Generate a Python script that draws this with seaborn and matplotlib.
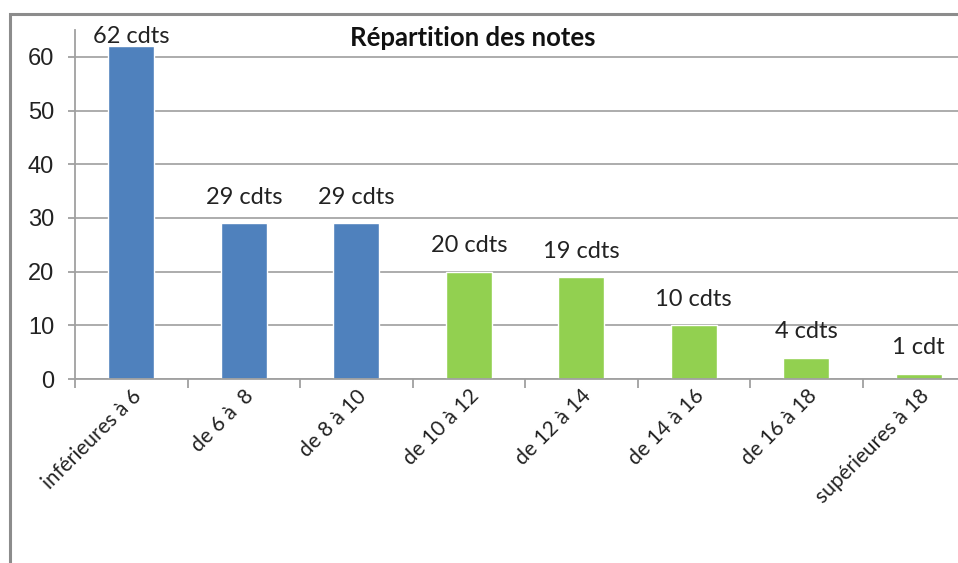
import matplotlib
matplotlib.use("Agg")
import matplotlib.pyplot as plt
import seaborn as sns
import pandas as pd
from matplotlib.patches import Rectangle

categories = ["inférieures à 6", "de 6 à  8", "de 8 à 10", "de 10 à 12",
              "de 12 à 14", "de 14 à 16", "de 16 à 18", "supérieures à 18"]
values = [62, 29, 29, 20, 19, 10, 4, 1]
labels = ["62 cdts", "29 cdts", "29 cdts", "20 cdts", "19 cdts", "10 cdts", "4 cdts", "1 cdt"]
groups = ["bas", "bas", "bas", "haut", "haut", "haut", "haut", "haut"]
palette = {"bas": "#4F81BD", "haut": "#92D050"}
yticks = [0, 10, 20, 30, 40, 50, 60]
title = "Répartition des notes"

sns.set_theme(style="white")
plt.rcParams["font.family"] = ["Lato", "DejaVu Sans"]

W, H = 958, 563
fig = plt.figure(figsize=(W / 100, H / 100), dpi=100)
ax_left, ax_right, ax_top, ax_bottom = 75, 975, 30, 379
ax = fig.add_axes([ax_left / W, 1 - ax_bottom / H, (ax_right - ax_left) / W, (ax_bottom - ax_top) / H])

df = pd.DataFrame({"cat": categories, "val": values, "grp": groups})
sns.barplot(data=df, x="cat", y="val", hue="grp", palette=palette, dodge=False,
            width=0.41, ax=ax, legend=False, saturation=1)

ax.set_xlim(-0.5, 7.5)
ax.set_ylim(0, 65)
ax.set_yticks(yticks)
ax.set_yticklabels([str(t) for t in yticks], fontfamily="Liberation Sans", fontsize=17)
ax.yaxis.grid(True, color="#A6A6A6", linewidth=1.3)
ax.set_axisbelow(True)
ax.set_xlabel("")
ax.set_ylabel("")

for s in ["top", "right"]:
    ax.spines[s].set_visible(False)
for s in ["left", "bottom"]:
    ax.spines[s].set_color("#A0A0A0")
    ax.spines[s].set_linewidth(1.3)

ax.tick_params(axis="y", left=True, length=5, color="#A0A0A0", width=1.3, pad=10, labelcolor="#222222")
ax.set_xticks(range(len(categories)))
ax.set_xticklabels(categories, rotation=45, ha="right", rotation_mode="anchor", fontsize=15, color="#222222")
ax.tick_params(axis="x", bottom=True, length=0, pad=5)
ax.set_xticks([i - 0.5 for i in range(len(categories) + 1)], minor=True)
ax.tick_params(axis="x", which="minor", bottom=True, length=6.5, color="#A0A0A0", width=1.3)

for i, (v, t) in enumerate(zip(values, labels)):
    y = min(v + 4.8, 63.7)
    ax.text(i, y, t, ha="center", va="center", fontsize=17, color="#222222")

fig.text(473 / W, 1 - 38 / H, title, ha="center", va="center", fontsize=18.5, fontweight="bold", color="#111111")

fig.patches.append(Rectangle((10 / W, -0.5), 2, 1.5 - 14 / H, transform=fig.transFigure,
                             fill=False, edgecolor="#8C8C8C", linewidth=2.2))

fig.savefig("out.png", dpi=100)
